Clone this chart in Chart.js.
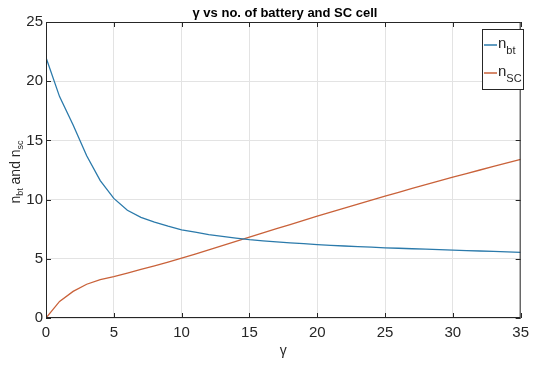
<!DOCTYPE html>
<html>
<head>
<meta charset="utf-8">
<script src="https://cdn.jsdelivr.net/npm/chart.js@4.4.1/dist/chart.umd.min.js"></script>
<style>
  html, body { margin: 0; padding: 0; background: #fff; }
  #wrap { width: 535px; height: 365px; }
</style>
</head>
<body>
<div id="wrap"><canvas id="myChart" width="535" height="365"></canvas></div>
<script>
const gammaValues = [0, 1, 2, 3, 4, 5, 6, 7, 8, 9, 10, 11, 12, 13, 14, 15, 16, 17, 18, 19, 20,
  21, 22, 23, 24, 25, 26, 27, 28, 29, 30, 31, 32, 33, 34, 35];
const nbtValues = [22, 18.7, 16.3, 13.7, 11.6, 10.1, 9.1, 8.5, 8.1, 7.75, 7.45, 7.25, 7.05, 6.9, 6.75, 6.62,
  6.52, 6.43, 6.35, 6.28, 6.2, 6.14, 6.08, 6.03, 5.98, 5.93, 5.89, 5.85, 5.81, 5.77, 5.73, 5.69, 5.66, 5.62, 5.59, 5.55];
const nscValues = [0, 1.4, 2.25, 2.85, 3.25, 3.5, 3.8, 4.1, 4.4, 4.72, 5.05, 5.4, 5.76, 6.12, 6.47, 6.83,
  7.18, 7.54, 7.89, 8.25, 8.6, 8.94, 9.28, 9.62, 9.96, 10.3, 10.62, 10.94, 11.26, 11.58, 11.9, 12.2, 12.5, 12.8, 13.1, 13.4];
const xTicks = [0, 5, 10, 15, 20, 25, 30, 35];
const yTicks = [0, 5, 10, 15, 20, 25];

const blueColor = '#2b7aab'
const orangeColor = '#c9623a'
const textColor = '#262626'
const fontFamily = "'Liberation Sans', Arial, sans-serif"

function toPoints(values) {
  return gammaValues.map((x, i) => ({x: x, y: values[i]}))
}

// frame, inward ticks, y label and legend with subscripts
const matlabLook = {
  id: 'matlabLook',
  afterDraw(chart) {
    const ctx = chart.ctx
    const area = chart.chartArea
    const xs = chart.scales.x
    const ys = chart.scales.y
    ctx.save()
    ctx.strokeStyle = textColor
    ctx.lineWidth = 1
    ctx.strokeRect(area.left + 0.5, area.top + 0.5, area.right - area.left - 1, area.bottom - area.top - 1)
    ctx.beginPath()
    xTicks.forEach(t => {
      const px = Math.round(xs.getPixelForValue(t)) + 0.5
      ctx.moveTo(px, area.bottom); ctx.lineTo(px, area.bottom - 5)
      ctx.moveTo(px, area.top); ctx.lineTo(px, area.top + 5)
    })
    yTicks.forEach(t => {
      const py = Math.round(ys.getPixelForValue(t)) + 0.5
      ctx.moveTo(area.left, py); ctx.lineTo(area.left + 5, py)
      ctx.moveTo(area.right, py); ctx.lineTo(area.right - 5, py)
    })
    ctx.stroke()

    // y axis title
    ctx.fillStyle = textColor
    ctx.translate(15, 172)
    ctx.rotate(-Math.PI / 2)
    ctx.textBaseline = 'alphabetic'
    const parts = [['n', 14, 0], ['bt', 9, 3], [' and n', 14, 0], ['sc', 9, 3]]
    let total = 0
    parts.forEach(p => { ctx.font = p[1] + 'px ' + fontFamily; total += ctx.measureText(p[0]).width })
    let cx = -total / 2
    parts.forEach(p => {
      ctx.font = p[1] + 'px ' + fontFamily
      ctx.fillText(p[0], cx, 5 + p[2])
      cx += ctx.measureText(p[0]).width
    })
    ctx.setTransform(1, 0, 0, 1, 0, 0)

    // legend
    ctx.fillStyle = '#ffffff'
    ctx.fillRect(482, 29, 41, 60)
    ctx.strokeStyle = textColor
    ctx.lineWidth = 1
    ctx.strokeRect(482.5, 29.5, 41, 60)
    const entries = [[blueColor, 'bt', 45], [orangeColor, 'SC', 73]]
    entries.forEach(e => {
      ctx.strokeStyle = e[0]
      ctx.lineWidth = 1.5
      ctx.beginPath()
      ctx.moveTo(484, e[2]); ctx.lineTo(497, e[2])
      ctx.stroke()
      ctx.fillStyle = textColor
      ctx.font = '15px ' + fontFamily
      ctx.fillText('n', 498, e[2] + 3)
      const w = ctx.measureText('n').width
      ctx.font = '11px ' + fontFamily
      ctx.fillText(e[1], 498 + w, e[2] + 9)
    })
    ctx.restore()
  }
}

new Chart("myChart", {
  type: "line",
  data: {
    datasets: [{
      label: 'n_bt',
      data: toPoints(nbtValues),
      borderColor: blueColor,
      borderWidth: 1.3,
      pointRadius: 0,
      tension: 0
    }, {
      label: 'n_SC',
      data: toPoints(nscValues),
      borderColor: orangeColor,
      borderWidth: 1.3,
      pointRadius: 0,
      tension: 0
    }]
  },
  plugins: [matlabLook],
  options: {
    responsive: false,
    animation: false,
    layout: {padding: {top: 22, right: 8, left: 0, bottom: 0}},
    plugins: {
      legend: {display: false},
      tooltip: {enabled: false},
      title: {display: false}
    },
    scales: {
      x: {
        type: 'linear',
        min: 0,
        max: 35,
        afterFit: (scale) => { scale.height = 47 },
        afterBuildTicks: (scale) => { scale.ticks = xTicks.map(v => ({value: v})) },
        grid: {color: '#e3e3e3', drawTicks: false},
        border: {display: false},
        ticks: {color: textColor, font: {family: fontFamily, size: 15}, padding: 6, maxRotation: 0},
        title: {display: true, text: 'γ', color: textColor, font: {family: fontFamily, size: 14}, padding: {top: 0, bottom: 5}}
      },
      y: {
        min: 0,
        max: 25,
        afterFit: (scale) => { scale.width = 46 },
        afterBuildTicks: (scale) => { scale.ticks = yTicks.map(v => ({value: v})) },
        grid: {color: '#e3e3e3', drawTicks: false},
        border: {display: false},
        ticks: {color: textColor, font: {family: fontFamily, size: 15}, padding: 3}
      }
    }
  }
});

// title drawn on top, bold
const titleCanvas = document.getElementById('myChart').getContext('2d')
titleCanvas.save()
titleCanvas.font = 'bold 13px ' + fontFamily
titleCanvas.fillStyle = '#000'
titleCanvas.textAlign = 'center'
titleCanvas.textBaseline = 'middle'
titleCanvas.fillText('γ vs no. of battery and SC cell', 285, 13)
titleCanvas.restore()
</script>
</body>
</html>
